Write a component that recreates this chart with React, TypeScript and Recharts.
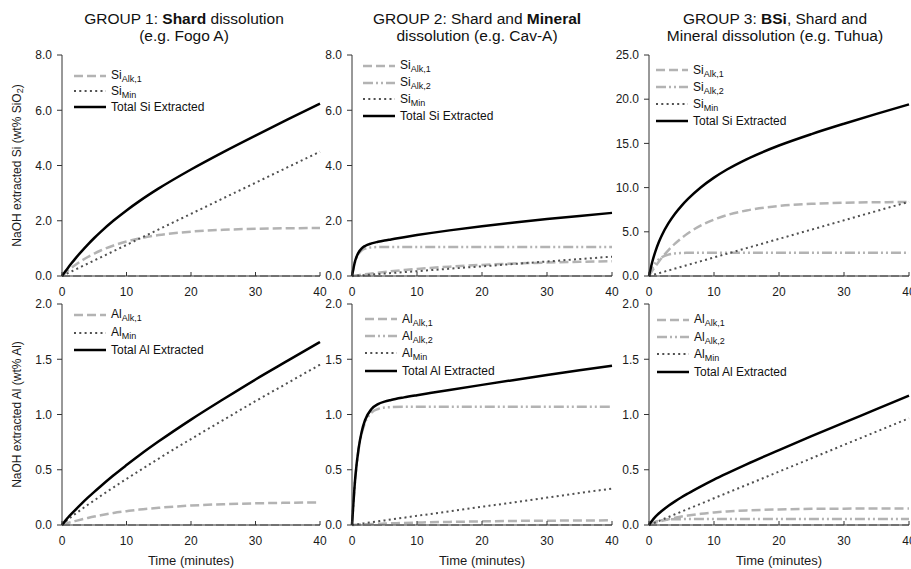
import React from 'react';
import { LineChart, Line, XAxis, YAxis, Legend } from 'recharts';

const FONT = '"Liberation Sans", Arial, Helvetica, sans-serif';

// time axis (minutes)
const TIME = [0, 0.5, 1, 1.5, 2, 3, 4, 5, 6, 8, 10, 12, 15, 20, 25, 30, 35, 40];
const X_TICKS = [0, 10, 20, 30, 40];
const SI_TICKS_8 = [0, 2, 4, 6, 8];
const SI_TICKS_25 = [0, 5, 10, 15, 20, 25];
const AL_TICKS = [0, 0.5, 1, 1.5, 2];

const ZERO = [0, 0, 0, 0, 0, 0, 0, 0, 0, 0, 0, 0, 0, 0, 0, 0, 0, 0];

// GROUP 1 Si
const G1_SI_ALK1 = [0, 0.106, 0.206, 0.299, 0.387, 0.547, 0.689, 0.813, 0.923, 1.106, 1.249, 1.36, 1.482, 1.606, 1.673, 1.709, 1.728, 1.738];
const G1_SI_MIN = [0, 0.056, 0.113, 0.169, 0.225, 0.338, 0.45, 0.563, 0.675, 0.9, 1.125, 1.35, 1.688, 2.25, 2.813, 3.375, 3.938, 4.5];
const G1_SI_TOTAL = [0, 0.162, 0.319, 0.468, 0.612, 0.885, 1.139, 1.376, 1.598, 2.006, 2.374, 2.71, 3.17, 3.856, 4.486, 5.084, 5.666, 6.238];

// GROUP 2 Si
const G2_SI_ALK1 = [0, 0.016, 0.032, 0.048, 0.063, 0.092, 0.12, 0.146, 0.17, 0.216, 0.256, 0.292, 0.339, 0.402, 0.45, 0.486, 0.513, 0.535];
const G2_SI_ALK2 = [0, 0.536, 0.798, 0.927, 0.99, 1.036, 1.047, 1.05, 1.05, 1.05, 1.05, 1.05, 1.05, 1.05, 1.05, 1.05, 1.05, 1.05];
const G2_SI_MIN = [0, 0.009, 0.018, 0.026, 0.035, 0.053, 0.07, 0.088, 0.105, 0.14, 0.175, 0.21, 0.263, 0.35, 0.438, 0.525, 0.613, 0.7];
const G2_SI_TOTAL = [0, 0.561, 0.848, 1.001, 1.088, 1.181, 1.237, 1.284, 1.325, 1.406, 1.481, 1.552, 1.652, 1.802, 1.938, 2.061, 2.176, 2.285];

// GROUP 3 Si
const G3_SI_ALK1 = [0, 0.579, 1.118, 1.62, 2.087, 2.928, 3.657, 4.288, 4.835, 5.72, 6.387, 6.887, 7.415, 7.918, 8.164, 8.284, 8.344, 8.372];
const G3_SI_ALK2 = [0, 0.9, 1.49, 1.884, 2.14, 2.42, 2.55, 2.6, 2.622, 2.637, 2.64, 2.64, 2.64, 2.64, 2.64, 2.64, 2.64, 2.64];
const G3_SI_MIN = [0, 0.105, 0.21, 0.315, 0.42, 0.63, 0.84, 1.05, 1.26, 1.68, 2.1, 2.52, 3.15, 4.2, 5.25, 6.3, 7.35, 8.4];
const G3_SI_TOTAL = [0, 1.584, 2.818, 3.819, 4.647, 5.978, 7.047, 7.938, 8.717, 10.037, 11.127, 12.047, 13.205, 14.758, 16.054, 17.224, 18.334, 19.412];

// GROUP 1 Al
const G1_AL_ALK1 = [0, 0.009, 0.019, 0.027, 0.035, 0.05, 0.064, 0.077, 0.088, 0.109, 0.125, 0.14, 0.156, 0.176, 0.188, 0.196, 0.201, 0.205];
const G1_AL_MIN = [0, 0.028, 0.053, 0.076, 0.098, 0.141, 0.183, 0.223, 0.263, 0.341, 0.417, 0.491, 0.601, 0.778, 0.95, 1.121, 1.286, 1.451];
const G1_AL_TOTAL = [0, 0.037, 0.072, 0.103, 0.133, 0.191, 0.247, 0.3, 0.351, 0.45, 0.542, 0.631, 0.757, 0.954, 1.138, 1.317, 1.487, 1.656];

// GROUP 2 Al
const G2_AL_ALK1 = [0, 0.0015, 0.003, 0.004, 0.006, 0.008, 0.011, 0.013, 0.015, 0.019, 0.022, 0.025, 0.028, 0.033, 0.037, 0.039, 0.041, 0.042];
const G2_AL_ALK2 = [0, 0.421, 0.676, 0.831, 0.925, 1.017, 1.05, 1.063, 1.067, 1.07, 1.07, 1.07, 1.07, 1.07, 1.07, 1.07, 1.07, 1.07];
const G2_AL_MIN = [0, 0.004, 0.008, 0.012, 0.017, 0.025, 0.033, 0.041, 0.05, 0.066, 0.083, 0.099, 0.124, 0.165, 0.206, 0.248, 0.289, 0.33];
const G2_AL_TOTAL = [0, 0.427, 0.687, 0.847, 0.948, 1.05, 1.094, 1.117, 1.132, 1.155, 1.175, 1.194, 1.222, 1.268, 1.313, 1.357, 1.4, 1.442];

// GROUP 3 Al
const G3_AL_ALK1 = [0, 0.01, 0.02, 0.029, 0.037, 0.052, 0.065, 0.077, 0.086, 0.102, 0.114, 0.123, 0.132, 0.141, 0.146, 0.148, 0.149, 0.15];
const G3_AL_ALK2 = [0, 0.018, 0.031, 0.039, 0.044, 0.05, 0.052, 0.053, 0.054, 0.054, 0.054, 0.054, 0.054, 0.054, 0.054, 0.054, 0.054, 0.054];
const G3_AL_MIN = [0, 0.012, 0.024, 0.036, 0.048, 0.072, 0.097, 0.121, 0.145, 0.193, 0.242, 0.29, 0.362, 0.483, 0.604, 0.725, 0.845, 0.966];
const G3_AL_TOTAL = [0, 0.041, 0.075, 0.104, 0.129, 0.174, 0.214, 0.251, 0.285, 0.349, 0.41, 0.467, 0.549, 0.678, 0.804, 0.926, 1.048, 1.17];

type Kind = 'zero' | 'alk1' | 'alk2' | 'min' | 'total';

const STYLES: Record<Kind, { stroke: string; width: number; dash?: string }> = {
  zero: { stroke: '#b3b3b3', width: 2, dash: '8 3' },
  alk1: { stroke: '#b3b3b3', width: 2.5, dash: '9 4' },
  alk2: { stroke: '#b3b3b3', width: 2.5, dash: '10 3 2 3 2 3' },
  min: { stroke: '#505050', width: 2, dash: '2 3.3' },
  total: { stroke: '#000000', width: 2.5 },
};

type Series = { kind: Kind; values: number[] };
type LegendItem = { kind: Kind; main: string; sub?: string };

const LegendBox = ({ items, rowH }: { items: LegendItem[]; rowH: number }) => (
  <div style={{ fontFamily: FONT, fontSize: 12, color: '#111' }}>
    {items.map((it, i) => {
      const s = STYLES[it.kind];
      return (
        <div key={i} style={{ display: 'flex', alignItems: 'center', height: rowH, whiteSpace: 'nowrap' }}>
          <svg width={34} height={8} style={{ display: 'block' }}>
            <line x1={1} y1={4} x2={33} y2={4} stroke={s.stroke} strokeWidth={s.width} strokeDasharray={s.dash} />
          </svg>
          <span style={{ marginLeft: 4, lineHeight: '12px' }}>
            {it.main}
            {it.sub ? <span style={{ fontSize: 9, position: 'relative', top: 3 }}>{it.sub}</span> : null}
          </span>
        </div>
      );
    })}
  </div>
);

type PanelProps = {
  left: number;
  top: number;
  yAxisWidth: number;
  plotW: number;
  rightMargin: number;
  xAxisH: number;
  yMax: number;
  yTicks: number[];
  series: Series[];
  legend: LegendItem[];
  legendPos: { x: number; y: number; rowH: number };
  yLabel?: 'si' | 'al';
  xLabel?: boolean;
};

const PLOT_H = 221;
const TOP_M = 10;

const Panel = (p: PanelProps) => {
  const width = p.yAxisWidth + p.plotW + p.rightMargin;
  const height = TOP_M + PLOT_H + p.xAxisH;
  const data = TIME.map((t, i) => {
    const row: Record<string, number> = { t };
    p.series.forEach((s, j) => {
      row['s' + j] = s.values[i];
    });
    return row;
  });
  const tickStyle = { fontFamily: FONT, fontSize: 12, fill: '#1a1a1a' };
  const yLabelFn = (props: any) => {
    const vb = props.viewBox || {};
    const cx = (vb.x || 0) + 17;
    const cy = (vb.y || 0) + (vb.height || 0) / 2;
    return (
      <text
        x={cx}
        y={cy}
        transform={`rotate(-90 ${cx} ${cy})`}
        textAnchor="middle"
        dominantBaseline="central"
        style={{ fontFamily: FONT, fontSize: 12, fill: '#1a1a1a' }}
      >
        {p.yLabel === 'si' ? (
          <>
            <tspan>NaOH extracted Si (wt% SiO</tspan>
            <tspan fontSize={9} dy={3}>2</tspan>
            <tspan dy={-3}>)</tspan>
          </>
        ) : (
          <tspan>NaOH extracted Al (wt% Al)</tspan>
        )}
      </text>
    );
  };
  const xLabelFn = (props: any) => {
    const vb = props.viewBox || {};
    const cx = (vb.x || 0) + (vb.width || 0) / 2;
    const by = (vb.y || 0) + 40;
    return (
      <text x={cx} y={by} textAnchor="middle" style={{ fontFamily: FONT, fontSize: 13, fill: '#1a1a1a' }}>
        Time (minutes)
      </text>
    );
  };
  return (
    <div style={{ position: 'absolute', left: p.left, top: p.top }}>
      <LineChart
        width={width}
        height={height}
        data={data}
        margin={{ top: TOP_M, right: p.rightMargin, left: 0, bottom: 0 }}
      >
        <XAxis
          dataKey="t"
          type="number"
          domain={[0, 40]}
          ticks={X_TICKS}
          interval={0}
          height={p.xAxisH}
          tick={tickStyle}
          tickSize={-4}
          tickMargin={15}
          stroke="#333"
          axisLine={{ stroke: '#333' }}
          tickLine={{ stroke: '#333' }}
          label={p.xLabel ? xLabelFn : undefined}
        />
        <XAxis
          xAxisId="top"
          orientation="top"
          type="number"
          dataKey="t"
          domain={[0, 40]}
          height={0}
          tick={false}
          tickLine={false}
          axisLine={{ stroke: '#333' }}
        />
        <YAxis
          type="number"
          domain={[0, p.yMax]}
          ticks={p.yTicks}
          interval={0}
          width={p.yAxisWidth}
          tick={tickStyle}
          tickSize={5}
          tickMargin={5}
          tickFormatter={(v: number) => v.toFixed(1)}
          axisLine={{ stroke: '#333' }}
          tickLine={{ stroke: '#333' }}
          label={p.yLabel ? yLabelFn : undefined}
        />
        <YAxis
          yAxisId="right"
          orientation="right"
          type="number"
          domain={[0, p.yMax]}
          width={0}
          tick={false}
          tickLine={false}
          axisLine={{ stroke: '#333' }}
        />
        <Legend
          layout="horizontal"
          verticalAlign="middle"
          align="center"
          wrapperStyle={{ left: p.legendPos.x - p.left, top: p.legendPos.y - p.top, width: 'auto', height: 'auto' }}
          content={() => <LegendBox items={p.legend} rowH={p.legendPos.rowH} />}
        />
        {p.series.map((s, j) => {
          const st = STYLES[s.kind];
          return (
            <Line
              key={j}
              dataKey={'s' + j}
              type="monotone"
              stroke={st.stroke}
              strokeWidth={st.width}
              strokeDasharray={st.dash}
              dot={false}
              activeDot={false}
              isAnimationActive={false}
              legendType="none"
            />
          );
        })}
      </LineChart>
    </div>
  );
};

const Title = ({ cx, line1, line2 }: { cx: number; line1: React.ReactNode; line2: React.ReactNode }) => (
  <div
    style={{
      position: 'absolute',
      left: cx - 160,
      top: 11,
      width: 320,
      textAlign: 'center',
      fontFamily: FONT,
      fontSize: 15.5,
      lineHeight: '16.5px',
      color: '#111',
    }}
  >
    <div>{line1}</div>
    <div>{line2}</div>
  </div>
);

const SI_LEG2: LegendItem[] = [
  { kind: 'alk1', main: 'Si', sub: 'Alk,1' },
  { kind: 'min', main: 'Si', sub: 'Min' },
  { kind: 'total', main: 'Total Si Extracted' },
];
const SI_LEG3: LegendItem[] = [
  { kind: 'alk1', main: 'Si', sub: 'Alk,1' },
  { kind: 'alk2', main: 'Si', sub: 'Alk,2' },
  { kind: 'min', main: 'Si', sub: 'Min' },
  { kind: 'total', main: 'Total Si Extracted' },
];
const AL_LEG2: LegendItem[] = [
  { kind: 'alk1', main: 'Al', sub: 'Alk,1' },
  { kind: 'min', main: 'Al', sub: 'Min' },
  { kind: 'total', main: 'Total Al Extracted' },
];
const AL_LEG3: LegendItem[] = [
  { kind: 'alk1', main: 'Al', sub: 'Alk,1' },
  { kind: 'alk2', main: 'Al', sub: 'Alk,2' },
  { kind: 'min', main: 'Al', sub: 'Min' },
  { kind: 'total', main: 'Total Al Extracted' },
];

export default function App() {
  const TOP_ROW = 45;
  const BOT_ROW = 294;
  return (
    <div style={{ position: 'absolute', left: 0, top: 0, width: 911, height: 569, background: '#fff', overflow: 'hidden' }}>
      <Title cx={184} line1={<>GROUP 1: <b>Shard</b> dissolution</>} line2={<>(e.g. Fogo A)</>} />
      <Title cx={477} line1={<>GROUP 2: Shard and <b>Mineral</b></>} line2={<>dissolution (e.g. Cav-A)</>} />
      <Title cx={775} line1={<>GROUP 3: <b>BSi</b>, Shard and</>} line2={<>Mineral dissolution (e.g. Tuhua)</>} />

      <Panel
        left={0} top={TOP_ROW} yAxisWidth={62} plotW={258} rightMargin={10} xAxisH={30}
        yMax={8} yTicks={SI_TICKS_8}
        series={[
          { kind: 'zero', values: ZERO },
          { kind: 'alk1', values: G1_SI_ALK1 },
          { kind: 'min', values: G1_SI_MIN },
          { kind: 'total', values: G1_SI_TOTAL },
        ]}
        legend={SI_LEG2} legendPos={{ x: 73, y: 68, rowH: 15.5 }} yLabel="si"
      />
      <Panel
        left={302} top={TOP_ROW} yAxisWidth={50} plotW={260} rightMargin={10} xAxisH={30}
        yMax={8} yTicks={SI_TICKS_8}
        series={[
          { kind: 'zero', values: ZERO },
          { kind: 'alk1', values: G2_SI_ALK1 },
          { kind: 'alk2', values: G2_SI_ALK2 },
          { kind: 'min', values: G2_SI_MIN },
          { kind: 'total', values: G2_SI_TOTAL },
        ]}
        legend={SI_LEG3} legendPos={{ x: 362, y: 57.5, rowH: 16.7 }}
      />
      <Panel
        left={599} top={TOP_ROW} yAxisWidth={50} plotW={260} rightMargin={2} xAxisH={30}
        yMax={25} yTicks={SI_TICKS_25}
        series={[
          { kind: 'zero', values: ZERO },
          { kind: 'alk1', values: G3_SI_ALK1 },
          { kind: 'alk2', values: G3_SI_ALK2 },
          { kind: 'min', values: G3_SI_MIN },
          { kind: 'total', values: G3_SI_TOTAL },
        ]}
        legend={SI_LEG3} legendPos={{ x: 655, y: 61.5, rowH: 17 }}
      />

      <Panel
        left={0} top={BOT_ROW} yAxisWidth={62} plotW={258} rightMargin={10} xAxisH={44}
        yMax={2} yTicks={AL_TICKS}
        series={[
          { kind: 'zero', values: ZERO },
          { kind: 'alk1', values: G1_AL_ALK1 },
          { kind: 'min', values: G1_AL_MIN },
          { kind: 'total', values: G1_AL_TOTAL },
        ]}
        legend={AL_LEG2} legendPos={{ x: 73, y: 306, rowH: 17.8 }} yLabel="al" xLabel
      />
      <Panel
        left={302} top={BOT_ROW} yAxisWidth={50} plotW={260} rightMargin={10} xAxisH={44}
        yMax={2} yTicks={AL_TICKS}
        series={[
          { kind: 'zero', values: ZERO },
          { kind: 'alk1', values: G2_AL_ALK1 },
          { kind: 'alk2', values: G2_AL_ALK2 },
          { kind: 'min', values: G2_AL_MIN },
          { kind: 'total', values: G2_AL_TOTAL },
        ]}
        legend={AL_LEG3} legendPos={{ x: 364, y: 310.7, rowH: 17.1 }} xLabel
      />
      <Panel
        left={599} top={BOT_ROW} yAxisWidth={50} plotW={260} rightMargin={2} xAxisH={44}
        yMax={2} yTicks={AL_TICKS}
        series={[
          { kind: 'zero', values: ZERO },
          { kind: 'alk1', values: G3_AL_ALK1 },
          { kind: 'alk2', values: G3_AL_ALK2 },
          { kind: 'min', values: G3_AL_MIN },
          { kind: 'total', values: G3_AL_TOTAL },
        ]}
        legend={AL_LEG3} legendPos={{ x: 656, y: 311.4, rowH: 17.2 }} xLabel
      />
    </div>
  );
}
